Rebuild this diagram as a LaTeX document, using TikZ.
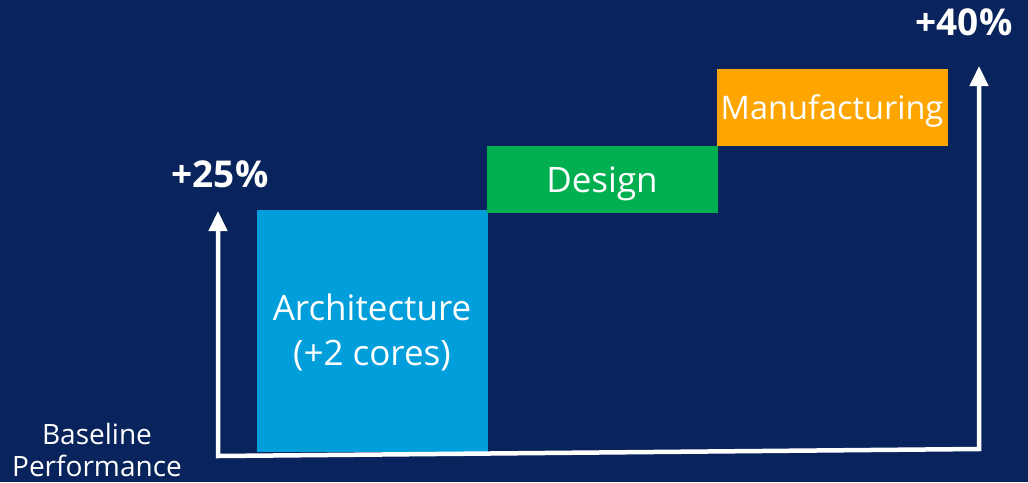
\documentclass[tikz,border=0pt]{standalone}
\usepackage{fontspec}
\setmainfont{Open Sans}
\usetikzlibrary{arrows.meta}
\definecolor{bg}{RGB}{9,36,92}
\definecolor{archblue}{RGB}{0,159,219}
\definecolor{desgreen}{RGB}{0,176,80}
\definecolor{mforange}{RGB}{255,165,0}
\begin{document}
\begin{tikzpicture}[x=1pt,y=-1pt,
  bar/.style={anchor=north west,inner sep=0pt,outer sep=0pt},
  bartext/.style={text=white,align=center,inner sep=0pt},
  pct/.style={text=white,font=\fontsize{37}{40}\selectfont\bfseries,inner sep=0pt},
  axis/.style={white,line width=4.5pt,line join=miter,{Triangle[width=18pt,length=20pt]}-{Triangle[width=18pt,length=20pt]}}]
\fill[bg] (0,0) rectangle (1028,482);
\useasboundingbox (0,0) rectangle (1028,482);
\node[bar,fill=archblue,minimum width=231pt,minimum height=242pt] (arch) at (257,210) {};
\node[bartext,font=\fontsize{35}{45}\selectfont] (archtxt) at (372,332) {Architecture\\(+2 cores)};
\node[bar,fill=desgreen,minimum width=231pt,minimum height=67pt] (des) at (487,146) {};
\node[bartext,font=\fontsize{35}{40}\selectfont] (destxt) at (602,184) {Design};
\node[bar,fill=mforange,minimum width=231pt,minimum height=77pt] (mf) at (717,69) {};
\node[bartext,font=\fontsize{32.5}{38}\selectfont] (mftxt) at (832,111) {Manufacturing};
\node[pct] (p25) at (220,174) {+25\%};
\node[pct] (p40) at (964,22) {+40\%};
\node[text=white,align=center,inner sep=0pt,font=\fontsize{28}{32}\selectfont] (base) at (97,450) {Baseline\\Performance};
\coordinate (tl) at (218,211);
\coordinate (bl) at (218,456);
\coordinate (br) at (979,449);
\coordinate (tr) at (979,66);
\draw[axis] (tl) -- (bl) -- (br) -- (tr);
\end{tikzpicture}
\end{document}
